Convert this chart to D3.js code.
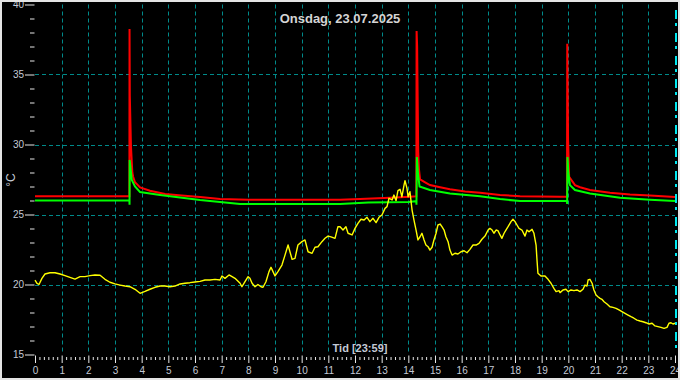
<!DOCTYPE html>
<html>
<head>
<meta charset="utf-8">
<script src="https://cdn.jsdelivr.net/npm/d3@7"></script>
<style>
  html, body { margin: 0; padding: 0; background: #000; }
  svg { display: block; }
</style>
</head>
<body>
<svg id="chart" width="680" height="380"></svg>
<script>
// ---- data ----
const titleText = "Onsdag, 23.07.2025";
const xTitle = "Tid [23:59]";
const yTitle = "°C";
const hourTicks = d3.range(0, 25);            // 0..24
const tempTicks = [15, 20, 25, 30, 35, 40];
const gridTemps = [20, 25, 30, 35];

// red series [hour, °C]
const redSeries = [
  [0,26.3],[3.54,26.3],[3.545,38.25],[3.555,33.5],[3.6,29.8],[3.65,28.0],[3.68,27.7],[3.75,27.3],
  [3.94,26.94],[4.31,26.7],[4.88,26.46],[5.5,26.35],[6.19,26.25],[6.94,26.1],[8,26.05],[11.44,26.05],
  [12.19,26.1],[13.31,26.2],[14.06,26.27],[14.3,26.3],[14.31,38.1],[14.33,37.0],[14.37,29.5],[14.4,28.2],
  [14.44,27.5],[14.63,27.3],[14.81,27.1],[15.19,26.95],[15.56,26.8],[16.13,26.65],[16.69,26.56],
  [17.44,26.4],[18.19,26.3],[19.69,26.27],[19.95,26.27],[19.96,37.2],[19.99,30.3],[20.03,27.7],
  [20.25,27.1],[20.44,26.95],[20.81,26.75],[21.56,26.55],[22.31,26.42],[23.06,26.35],[24,26.25]
];

// green series [hour, °C]
const greenSeries = [
  [0,26.0],[3.54,26.0],[3.545,25.7],[3.55,28.9],[3.6,28.0],[3.63,27.46],[3.75,27.0],[3.94,26.6],
  [4.69,26.4],[6.19,26.04],[7.69,25.75],[11.44,25.75],[12.5,25.85],[14.0,25.9],[14.3,25.95],
  [14.305,25.7],[14.32,29.1],[14.36,28.0],[14.42,27.0],[14.81,26.75],[15.56,26.5],[16.69,26.3],
  [17.44,26.1],[18.19,25.96],[19.95,25.96],[19.955,25.75],[19.97,29.1],[20.0,28.0],[20.06,27.1],
  [20.25,26.75],[20.81,26.5],[21.94,26.2],[23.06,26.05],[24,25.96]
];

// yellow series [hour, °C]
const yellowSeries = [
  [0.00,20.32],[0.075,20.08],[0.15,20.0],[0.26,20.44],[0.375,20.75],[0.56,20.84],[0.75,20.84],
  [0.94,20.75],[1.125,20.63],[1.31,20.51],[1.5,20.39],[1.69,20.56],[1.875,20.56],[2.06,20.63],
  [2.25,20.68],[2.44,20.66],[2.625,20.37],[2.81,20.16],[3.0,20.04],[3.19,19.96],[3.375,19.89],
  [3.56,19.84],[3.75,19.66],[3.94,19.37],[4.125,19.51],[4.31,19.66],[4.5,19.80],[4.69,19.89],
  [4.875,19.89],[5.06,19.84],[5.25,19.89],[5.44,20.04],[5.625,20.09],[5.81,20.13],[6.0,20.18],
  [6.19,20.22],[6.375,20.32],[6.56,20.32],[6.75,20.37],[6.94,20.32],[7.01,20.61],[7.125,20.44],
  [7.275,20.68],[7.39,20.56],[7.5,20.44],[7.69,20.09],[7.76,19.84],[7.875,20.2],[7.99,20.56],
  [8.06,20.44],[8.14,20.09],[8.25,19.84],[8.36,20.0],[8.475,19.84],[8.55,19.80],[8.66,20.2],
  [8.775,20.92],[8.85,21.23],[8.925,20.92],[9.0,20.61],[9.11,20.92],[9.26,21.39],[9.375,22.1],
  [9.49,22.82],[9.64,21.8],[9.75,21.87],[9.86,22.82],[10.01,23.06],[10.125,23.18],[10.24,22.34],
  [10.39,22.23],[10.5,22.66],[10.61,22.7],[10.76,23.06],[10.875,23.3],[10.99,23.46],[11.1,23.4],
  [11.25,23.3],[11.36,24.13],[11.44,24.13],[11.55,23.89],[11.66,24.13],[11.74,23.66],[11.89,23.54],
  [12.0,24.01],[12.11,24.37],[12.225,24.66],[12.34,24.61],[12.45,24.8],[12.56,24.49],[12.675,24.73],
  [12.79,24.42],[12.9,24.8],[13.01,24.96],[13.125,25.44],[13.2,25.56],[13.275,26.16],[13.39,26.04],
  [13.46,26.39],[13.54,25.99],[13.61,26.7],[13.69,26.8],[13.76,26.27],[13.84,27.11],[13.875,27.41],
  [13.95,26.87],[13.99,26.27],[14.06,26.63],[14.14,25.32],[14.21,24.61],[14.29,23.89],[14.36,23.18],
  [14.44,23.41],[14.51,23.66],[14.59,23.18],[14.66,22.82],[14.74,22.7],[14.81,22.46],[14.89,22.66],
  [14.96,23.18],[15.04,23.66],[15.11,24.25],[15.19,24.32],[15.26,24.13],[15.34,23.89],[15.41,23.41],
  [15.49,23.06],[15.56,22.46],[15.64,22.1],[15.75,22.23],[15.86,22.18],[15.975,22.34],[16.09,22.41],
  [16.2,22.27],[16.31,22.51],[16.425,22.82],[16.54,22.82],[16.65,22.94],[16.76,23.23],[16.875,23.46],
  [16.99,23.89],[17.06,24.01],[17.14,23.89],[17.21,23.66],[17.29,23.89],[17.36,23.85],[17.44,23.54],
  [17.51,23.3],[17.59,23.66],[17.66,23.89],[17.74,24.13],[17.85,24.49],[17.925,24.66],[18.0,24.49],
  [18.075,24.25],[18.15,24.01],[18.26,23.89],[18.375,23.46],[18.45,23.89],[18.525,23.77],[18.64,23.94],
  [18.71,23.66],[18.79,22.82],[18.825,21.75],[18.86,20.8],[18.975,20.61],[19.125,20.61],[19.24,20.37],
  [19.35,20.09],[19.46,19.73],[19.54,19.49],[19.65,19.56],[19.69,19.42],[19.8,19.61],[19.91,19.66],
  [19.99,19.49],[20.1,19.61],[20.21,19.56],[20.325,19.61],[20.44,19.49],[20.55,19.66],[20.625,19.96],
  [20.7,19.89],[20.74,20.32],[20.81,20.37],[20.89,20.09],[20.96,19.61],[21.04,19.25],[21.11,19.13],
  [21.19,19.01],[21.26,18.94],[21.34,18.77],[21.45,18.61],[21.56,18.41],[21.675,18.37],[21.79,18.3],
  [21.9,18.18],[22.01,18.06],[22.125,17.94],[22.24,17.82],[22.35,17.7],[22.46,17.59],[22.575,17.46],
  [22.69,17.39],[22.8,17.34],[22.91,17.27],[23.025,17.18],[23.14,17.23],[23.25,17.04],[23.36,16.99],
  [23.475,16.94],[23.59,16.87],[23.7,16.94],[23.775,17.23],[23.85,17.27],[23.925,17.18],[24.0,17.23]
];

// ---- drawing ----
const svg = d3.select("#chart");
const W = 680, H = 380;
const x = d3.scaleLinear().domain([0, 24]).range([35, 675]);
const y = d3.scaleLinear().domain([15, 40]).range([354.5, 4.5]);

svg.append("rect").attr("width", W).attr("height", H).attr("fill", "#000");

const gridColor = "#008a8a";
// vertical grid
svg.append("g").selectAll("line").data(hourTicks.filter(h => h > 0 && h < 24)).join("line")
  .attr("x1", d => Math.round(x(d)) + 0.5).attr("x2", d => Math.round(x(d)) + 0.5)
  .attr("y1", y(40)).attr("y2", y(15))
  .attr("stroke", gridColor).attr("stroke-width", 1).attr("stroke-dasharray", "4,3");
// horizontal grid
svg.append("g").selectAll("line").data(gridTemps).join("line")
  .attr("x1", x(0)).attr("x2", x(24))
  .attr("y1", d => Math.round(y(d)) + 0.5).attr("y2", d => Math.round(y(d)) + 0.5)
  .attr("stroke", gridColor).attr("stroke-width", 1).attr("stroke-dasharray", "4,3");

// current-time marker at 24h
svg.append("line")
  .attr("x1", x(24) + 1).attr("x2", x(24) + 1).attr("y1", 10).attr("y2", y(15))
  .attr("stroke", "#00e8f0").attr("stroke-width", 2).attr("stroke-dasharray", "9,4,3,7");

const labelColor = "#c4cad6";
const tickColor = "#e8e8e8";

// y axis
const yAxis = svg.append("g").attr("transform", "translate(34.5,0)")
  .call(d3.axisLeft(y).tickValues(tempTicks).tickSize(9.5).tickPadding(1).tickFormat(d3.format("d")));
const yMinor = svg.append("g").attr("transform", "translate(34.5,0)")
  .call(d3.axisLeft(y).tickValues(d3.range(15, 41).filter(v => v % 5 !== 0)).tickSize(4.5).tickFormat(""));
// x axis
const xAxis = svg.append("g").attr("transform", "translate(0,355.5)")
  .call(d3.axisBottom(x).tickValues(hourTicks).tickSize(7.5).tickPadding(4).tickFormat(d3.format("d")));
const xMinor = svg.append("g").attr("transform", "translate(0,357)")
  .call(d3.axisBottom(x).tickValues(d3.range(0, 24 * 6 + 1).filter(i => i % 6 !== 0).map(i => i / 6)).tickSize(3).tickFormat(""));

[yAxis, yMinor, xAxis, xMinor].forEach(g => {
  g.select(".domain").remove();
  g.selectAll(".tick line").attr("stroke", tickColor).attr("stroke-width", 1);
  g.selectAll(".tick text").attr("fill", labelColor)
    .style("font-family", "'Liberation Sans', Arial, sans-serif").style("font-size", "10px");
});
xAxis.selectAll(".tick line").attr("y1", 0);

// series
const line = d3.line().x(d => x(d[0])).y(d => y(d[1]));
const plot = svg.append("g");
plot.append("path").datum(redSeries).attr("d", line)
  .attr("fill", "none").attr("stroke", "#ff0000").attr("stroke-width", 2).attr("stroke-linejoin", "miter");
plot.append("path").datum(greenSeries).attr("d", line)
  .attr("fill", "none").attr("stroke", "#00ff00").attr("stroke-width", 2).attr("stroke-linejoin", "miter");
plot.append("path").datum(yellowSeries).attr("d", line)
  .attr("fill", "none").attr("stroke", "#ffff00").attr("stroke-width", 1.4).attr("stroke-linejoin", "round");

// texts
svg.append("text").attr("x", 340).attr("y", 23).attr("text-anchor", "middle")
  .attr("fill", "#d4d4d4").style("font-family", "'Liberation Sans', Arial, sans-serif")
  .style("font-size", "13px").style("font-weight", "bold").text(titleText);
svg.append("text").attr("x", 360).attr("y", 352).attr("text-anchor", "middle")
  .attr("fill", labelColor).style("font-family", "'Liberation Sans', Arial, sans-serif")
  .style("font-size", "11px").style("font-weight", "bold").text(xTitle);
svg.append("text").attr("transform", "translate(15,180) rotate(-90)").attr("text-anchor", "middle")
  .attr("fill", labelColor).style("font-family", "'Liberation Sans', Arial, sans-serif")
  .style("font-size", "12px").text(yTitle);

// frame
svg.append("rect").attr("x", 1).attr("y", 1).attr("width", W - 2).attr("height", H - 2)
  .attr("fill", "none").attr("stroke", "#e4e4e4").attr("stroke-width", 2);
</script>
</body>
</html>
